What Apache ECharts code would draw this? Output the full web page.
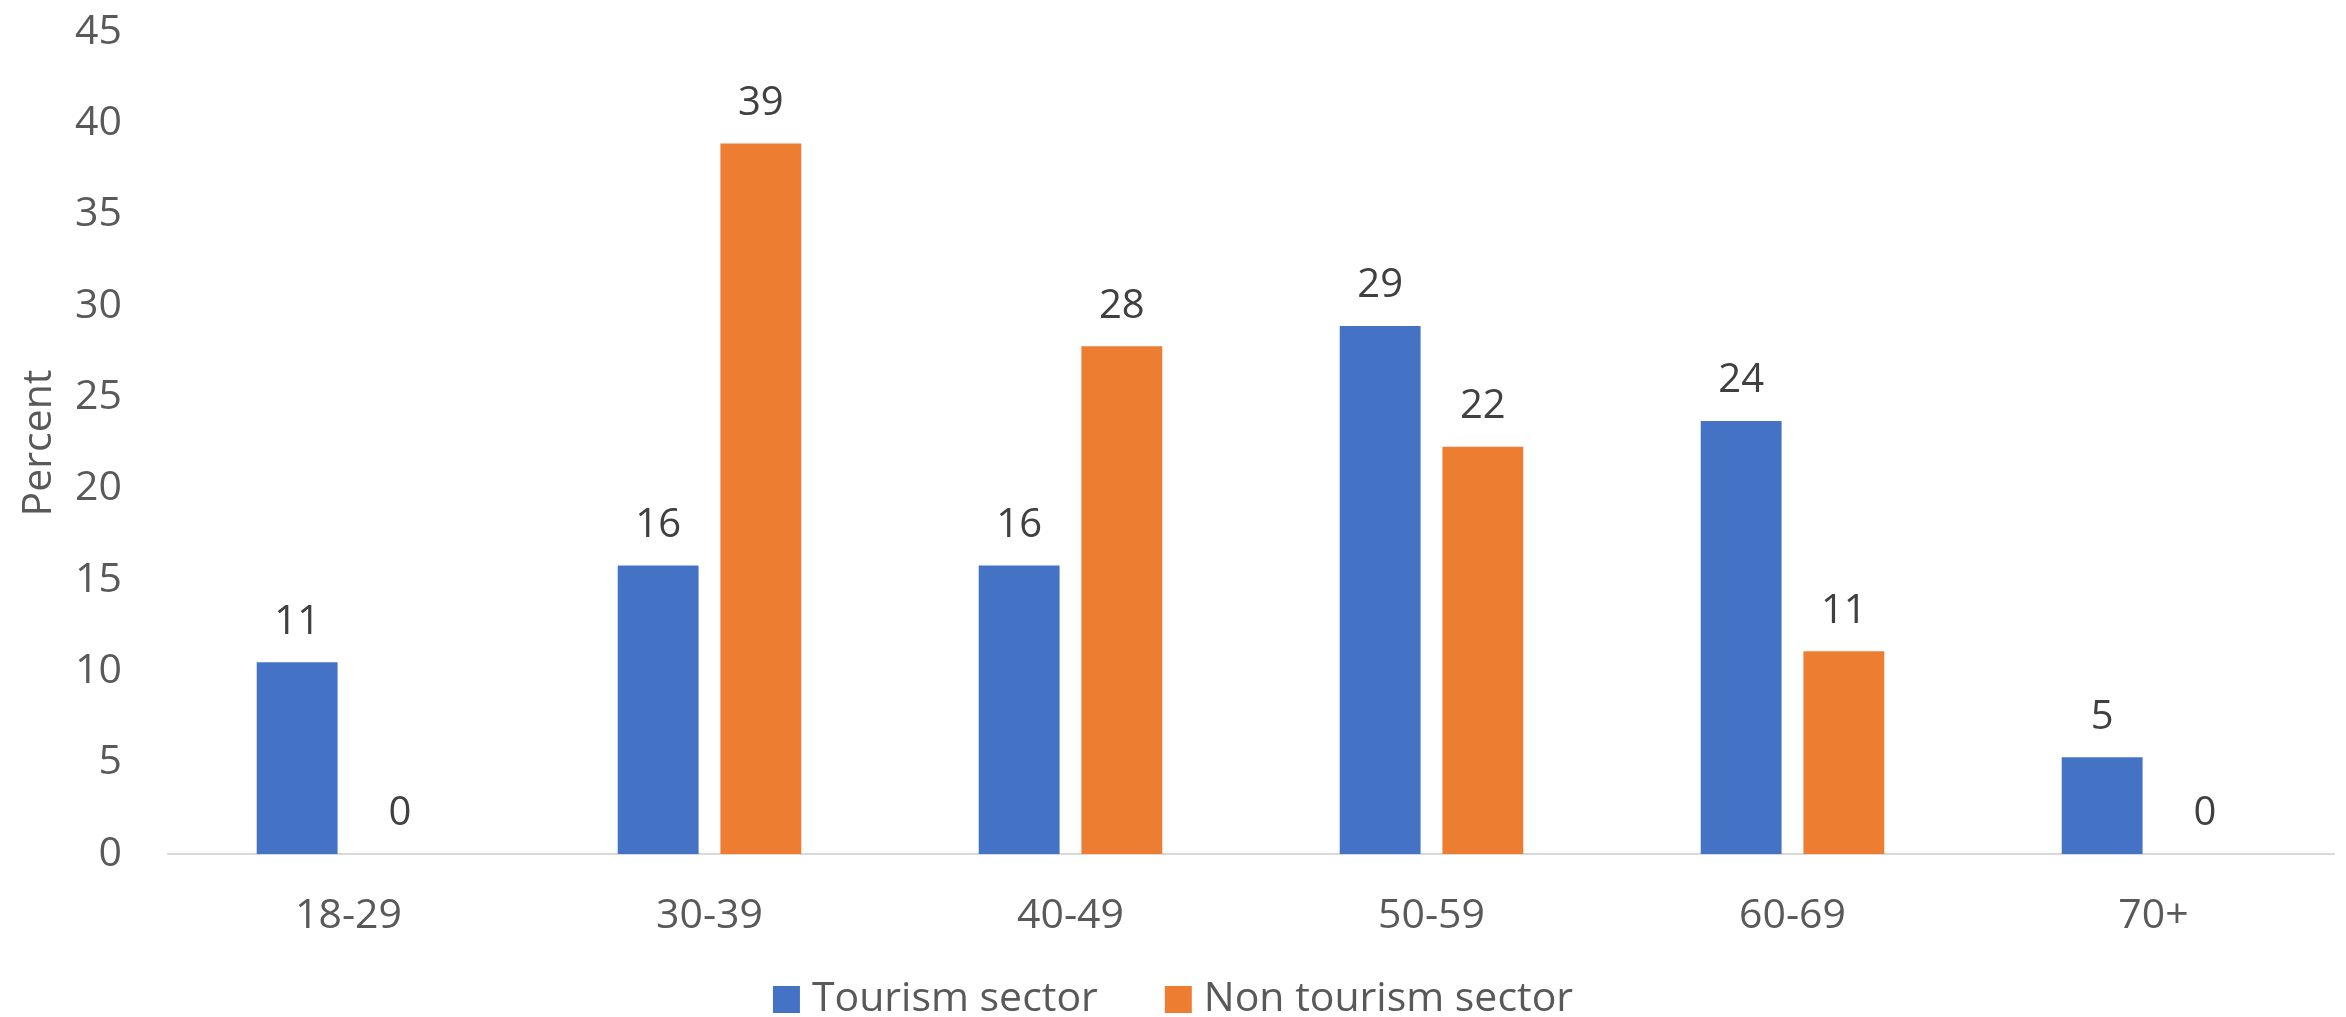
<!DOCTYPE html>
<html>
<head>
<meta charset="utf-8">
<script src="https://cdn.jsdelivr.net/npm/echarts@6/dist/echarts.min.js"></script>
<style>
  html, body { margin: 0; padding: 0; background: #fff; }
  #chart { width: 2346px; height: 1017px; }
</style>
</head>
<body>
<div id="chart"></div>
<script>
// age groups
const categories = ['18-29', '30-39', '40-49', '50-59', '60-69', '70+']
// percent per sector
const tourism = [10.5, 15.8, 15.8, 28.9, 23.7, 5.3]
const nonTourism = [0, 38.9, 27.8, 22.3, 11.1, 0]
const yTicks = [0, 5, 10, 15, 20, 25, 30, 35, 40, 45]

const chart = echarts.init(document.getElementById('chart'))

const fontFamily = '"Open Sans", sans-serif'

// 数据标签
const barLabel = {
  show: true,
  position: 'top',
  distance: 20,
  fontSize: 40,
  fontFamily,
  color: '#404040',
  formatter: (p) => Math.round(p.value)
}

const option = {
  backgroundColor: '#fff',
  animation: false,
  color: ['#4472C4', '#ED7D31'],
  legend: {
    top: 974,
    left: 'center',
    itemWidth: 27,
    itemHeight: 27,
    itemGap: 67,
    icon: 'rect',
    textStyle: {
      fontSize: 41,
      fontFamily,
      color: '#595959',
      padding: [0, 0, 0, 7]
    },
    data: ['Tourism sector', 'Non tourism sector']
  },
  grid: {
    left: 168,
    right: 12,
    top: 32,
    bottom: 163,
    containLabel: false
  },
  xAxis: {
    type: 'category',
    data: categories,
    axisLine: { lineStyle: { color: '#d9d9d9', width: 2 } },
    axisTick: { show: false },
    axisLabel: {
      fontSize: 41,
      fontFamily,
      color: '#595959',
      margin: 42
    }
  },
  yAxis: {
    type: 'value',
    min: yTicks[0],
    max: yTicks[yTicks.length - 1],
    interval: 5,
    name: 'Percent',
    nameLocation: 'middle',
    nameGap: 108,
    nameTextStyle: {
      fontSize: 41,
      fontFamily,
      color: '#595959'
    },
    axisLine: { show: false },
    axisTick: { show: false },
    splitLine: { show: false },
    axisLabel: {
      fontSize: 41,
      fontFamily,
      color: '#595959',
      margin: 46
    }
  },
  series: [
    {
      name: 'Tourism sector',
      type: 'bar',
      data: tourism,
      barWidth: '22.4%',
      barGap: '27%',
      label: barLabel
    },
    {
      name: 'Non tourism sector',
      type: 'bar',
      data: nonTourism,
      barWidth: '22.4%',
      label: barLabel
    }
  ]
}

chart.setOption(option)
</script>
</body>
</html>
